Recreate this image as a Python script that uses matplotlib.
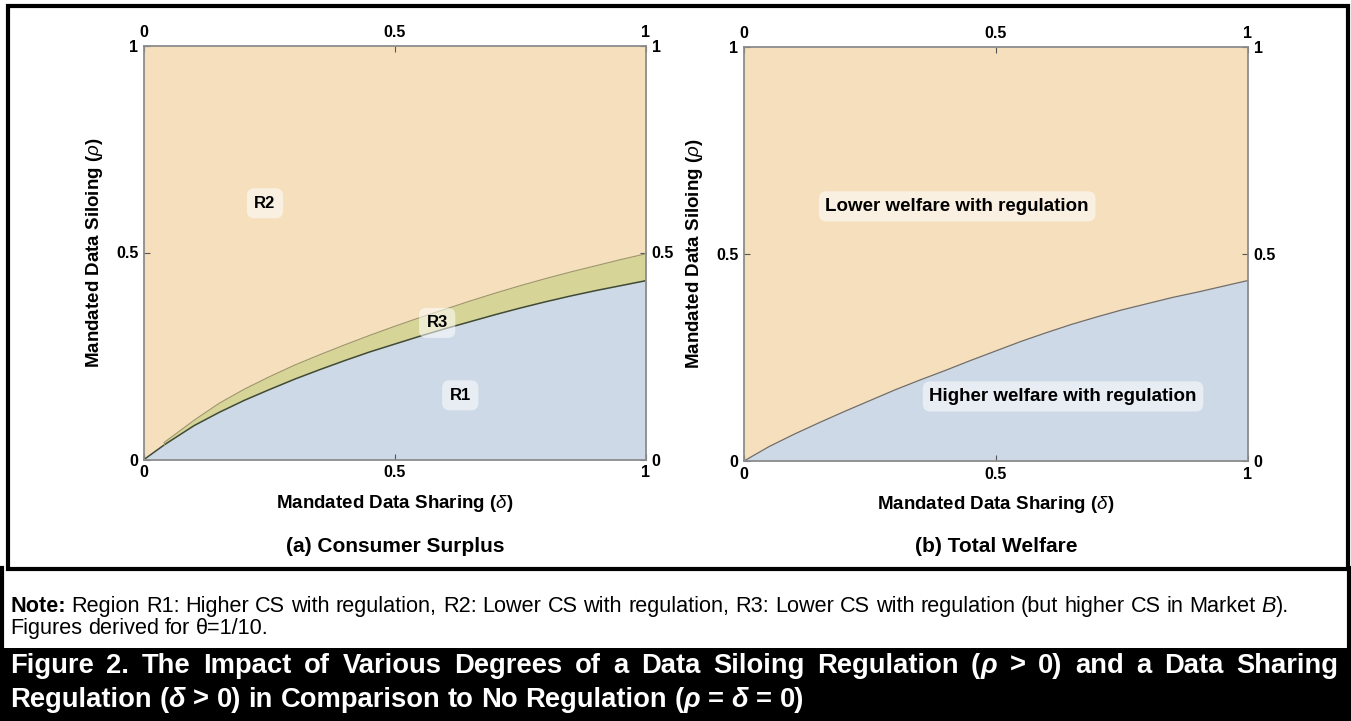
import numpy as np
import matplotlib
matplotlib.use("Agg")
import matplotlib.pyplot as plt
from matplotlib import font_manager
from matplotlib.patches import Rectangle

# ---------------- data ----------------
delta = [0.0, 0.04, 0.05, 0.10, 0.15, 0.20, 0.25, 0.30, 0.35, 0.40, 0.45, 0.50,
         0.55, 0.60, 0.65, 0.70, 0.75, 0.80, 0.85, 0.90, 0.95, 1.00]
# Consumer surplus: R1 / R3 boundary (lower) and R3 / R2 boundary (upper)
cs_lower = [0.0, 0.035, 0.043, 0.082, 0.114, 0.143, 0.169, 0.194, 0.217, 0.239, 0.260, 0.279,
            0.298, 0.316, 0.333, 0.350, 0.366, 0.381, 0.395, 0.408, 0.420, 0.432]
cs_upper = [np.nan, 0.041, 0.050, 0.095, 0.136, 0.170, 0.200, 0.228, 0.253, 0.277, 0.300, 0.322,
            0.343, 0.363, 0.383, 0.402, 0.420, 0.437, 0.453, 0.468, 0.483, 0.497]
# Total welfare boundary
tw_boundary = [0.0, 0.028, 0.035, 0.065, 0.093, 0.120, 0.146, 0.172, 0.196, 0.219, 0.243, 0.266,
               0.289, 0.310, 0.330, 0.348, 0.365, 0.380, 0.395, 0.408, 0.422, 0.436]

tick_vals = [0, 0.5, 1]
tick_labels = ["0", "0.5", "1"]
cs_region_labels = ["R2", "R3", "R1"]
tw_region_labels = ["Lower welfare with regulation", "Higher welfare with regulation"]
x_label = "Mandated Data Sharing ("
y_label = "Mandated Data Siloing ("
panel_titles = ["(a) Consumer Surplus", "(b) Total Welfare"]

# ---------------- style ----------------
W, H = 1351, 721
PEACH = "#F5DFBD"
BLUE = "#CDD9E7"
KHAKI = "#D7D498"
SPINE = "#8C8C8C"

avail = {f.name for f in font_manager.fontManager.ttflist}
SANS = "Liberation Sans" if "Liberation Sans" in avail else "DejaVu Sans"
NARROW = "Liberation Sans Narrow" if "Liberation Sans Narrow" in avail else SANS

plt.rcParams["font.family"] = [SANS, "DejaVu Sans"]
plt.rcParams["mathtext.fontset"] = "custom"
plt.rcParams["mathtext.it"] = SANS + ":italic"
plt.rcParams["mathtext.rm"] = SANS + ":bold"
plt.rcParams["mathtext.bf"] = SANS + ":bold"

fig = plt.figure(figsize=(W / 100, H / 100), dpi=100)
fig.patch.set_facecolor("white")


def fx(x):
    return x / W


def fy(y):
    return (H - y) / H


# ---------------- panels ----------------
d = np.array(delta)
lo = np.array(cs_lower)
up = np.array(cs_upper)
tw = np.array(tw_boundary)


def setup_axes(ax):
    ax.set_xlim(0, 1)
    ax.set_ylim(0, 1)
    ax.set_facecolor(PEACH)
    for s in ax.spines.values():
        s.set_color(SPINE)
        s.set_linewidth(1.3)
    ax.set_xticks(tick_vals)
    ax.set_yticks(tick_vals)
    ax.set_xticklabels(tick_labels)
    ax.set_yticklabels(tick_labels)
    ax.tick_params(direction="in", length=4, width=0.8, color="#555555",
                   top=True, right=True, labeltop=True, labelright=True,
                   labelsize=11.5, pad=4)
    for lab in ax.xaxis.get_ticklabels(which="both") + ax.yaxis.get_ticklabels(which="both"):
        lab.set_fontweight("bold")
    for t in ax.xaxis.get_major_ticks() + ax.yaxis.get_major_ticks():
        t.label1.set_fontweight("bold")
        t.label2.set_fontweight("bold")
    ax.set_xlabel(x_label + r"$\mathit{\delta}$)", fontsize=13.5, fontweight="bold", labelpad=9)
    ax.set_ylabel(y_label + r"$\mathit{\rho}$)", fontsize=13.5, fontweight="bold", labelpad=8)


# Panel (a)
axa = fig.add_axes([fx(144), fy(459.5), 502 / W, 414 / H])
setup_axes(axa)
axa.fill_between(d, 0, lo, color=BLUE, lw=0)
mask = ~np.isnan(up)
axa.fill_between(d[mask], lo[mask], up[mask], color=KHAKI, lw=0)
axa.plot(d, lo, color="#3E4A3A", lw=1.1)
axa.plot(d[mask], up[mask], color="#9A9668", lw=0.8)
axa.plot([d[mask][0]] * 2, [lo[mask][0], up[mask][0]], color="#9A9668", lw=0.8)
for txt, (x, y) in zip(cs_region_labels, [(0.241, 0.619), (0.584, 0.330), (0.63, 0.155)]):
    axa.text(x, y, txt, ha="center", va="center", fontsize=12, fontweight="bold",
             bbox=dict(boxstyle="round,pad=0.45,rounding_size=0.45", fc="white", ec="none", alpha=0.55))

# Panel (b)
axb = fig.add_axes([fx(744), fy(461), 504 / W, 414 / H])
setup_axes(axb)
axb.fill_between(d, 0, tw, color=BLUE, lw=0)
axb.plot(d, tw, color="#6E6E6E", lw=0.9)
for txt, (x, y) in zip(tw_region_labels, [(0.423, 0.615), (0.633, 0.156)]):
    axb.text(x, y, txt, ha="center", va="center", fontsize=13.5, fontweight="bold",
             bbox=dict(boxstyle="round,pad=0.35,rounding_size=0.4", fc="white", ec="none", alpha=0.55))

# Panel sub-captions
for ax, t in zip([axa, axb], panel_titles):
    pos = ax.get_position()
    fig.text(pos.x0 + pos.width / 2, fy(546), t, ha="center", va="center",
             fontsize=15, fontweight="bold")

# ---------------- frame ----------------
bg = fig.add_axes([0, 0, 1, 1], zorder=-5)
bg.set_xlim(0, W)
bg.set_ylim(H, 0)
bg.axis("off")
bg.add_patch(Rectangle((7.5, 5.5), 1340, 563, fill=False, ec="black", lw=3))
bg.plot([2, 2], [568, 648], color="black", lw=3)
bg.plot([1348.5, 1348.5], [568, 648], color="black", lw=3)
bg.add_patch(Rectangle((0, 648), W, H - 648, fc="black", ec="none"))

# ---------------- run-based text ----------------
renderer = fig.canvas.get_renderer()


def tw_px(s, size, family, weight, style):
    t = fig.text(0, 0, s, fontsize=size, family=family, fontweight=weight, fontstyle=style)
    w = t.get_window_extent(renderer).width
    t.remove()
    return w


def seg_props(code):
    weight = "bold" if "b" in code else "normal"
    style = "italic" if "i" in code else "normal"
    return weight, style


def word_width(word, size, family):
    return sum(tw_px(s, size, family, *seg_props(c)) for s, c in word)


def space_width(size, family, code):
    w, st = seg_props(code)
    return tw_px("x x", size, family, w, st) - tw_px("xx", size, family, w, st)


def draw_words(words, x0, ybase, size, family, color, space_code, x1=None):
    widths = [word_width(wd, size, family) for wd in words]
    if x1 is None:
        gap = space_width(size, family, space_code)
    else:
        gap = (x1 - x0 - sum(widths)) / (len(words) - 1)
    x = x0
    for wd, wdw in zip(words, widths):
        xx = x
        for s, c in wd:
            weight, style = seg_props(c)
            fig.text(fx(xx), fy(ybase), s, fontsize=size, family=family, fontweight=weight,
                     fontstyle=style, color=color, ha="left", va="baseline")
            xx += tw_px(s, size, family, weight, style)
        x += wdw + gap


def words_from(text, code):
    return [[(w, code)] for w in text.split(" ")]


def natural_width(words, size, family, space_code):
    return sum(word_width(w, size, family) for w in words) + space_width(size, family, space_code) * (len(words) - 1)


# Note lines
note1 = [[("Note:", "b")]] + words_from(
    "Region R1: Higher CS with regulation, R2: Lower CS with regulation, R3: Lower CS with regulation (but higher CS in Market", "n") \
    + [[("B", "i"), (").", "n")]]
note2 = words_from("Figures derived for \u03b8=1/10.", "n")
prefix = note1[:11] + [[("regulati", "n")]]
ref = natural_width(prefix, 10, NARROW, "n")
note_size = 10 * (700 - 10) / ref
draw_words(note1, 10, 612, note_size, NARROW, "black", "n")
draw_words(note2, 10, 634, note_size, NARROW, "black", "n")

# Title lines
t1 = words_from("Figure 2. The Impact of Various Degrees of a Data Siloing Regulation", "b") \
    + [[("(", "b"), ("\u03c1", "bi")], [(">", "b")], [("0)", "b")]] \
    + words_from("and a Data Sharing", "b")
t2 = [[("Regulation", "b")], [("(", "b"), ("\u03b4", "bi")], [(">", "b")], [("0)", "b")]] \
    + words_from("in Comparison to No Regulation", "b") \
    + [[("(", "b"), ("\u03c1", "bi")], [("=", "b")], [("\u03b4", "bi")], [("=", "b")], [("0)", "b")]]
prefix2 = t2[:10]
ref2 = natural_width(prefix2, 10, NARROW, "b")
title_size = 10 * (700 - 10) / ref2
draw_words(t1, 10, 673, title_size, NARROW, "white", "b", x1=1338)
draw_words(t2, 10, 707, title_size, NARROW, "white", "b")

fig.savefig("out.png", dpi=100)
